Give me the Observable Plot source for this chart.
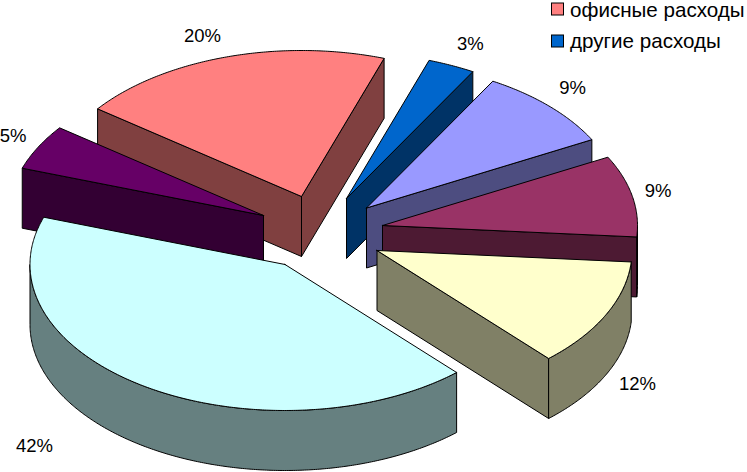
<!DOCTYPE html>
<html>
<head>
<meta charset="utf-8">
<script src="https://cdn.jsdelivr.net/npm/d3@7"></script>
<script src="https://cdn.jsdelivr.net/npm/@observablehq/plot@0.6"></script>
<style>html,body{margin:0;padding:0;background:#fff}svg{display:block}</style>
</head>
<body>
<div id="chart"></div>
<script>
// Data, clockwise from the blue slice
const sliceIds = ["other", "s2", "s3", "s4", "s5", "s6", "office"];
const shares = [3, 9, 9, 12, 42, 5, 20];
const shareLabels = ["3%", "9%", "9%", "12%", "42%", "5%", "20%"];
const legendNames = ["офисные расходы", "другие расходы"];
const legendIds = ["office", "other"];

// Styling
const topColors = ["#0066CC", "#9999FF", "#993366", "#FFFFCC", "#CCFFFF", "#660066", "#FF8080"];
const wallColors = ["#003366", "#4D4D80", "#4D1A33", "#808066", "#668080", "#330033", "#804040"];

// Pie layout: ellipse radii, extrusion, rotation, exploded apex of every slice
const rx = 255, ry = 146, depth = 60, rotation = 18.9;
const apexX = [346, 366, 382, 376.5, 284.5, 263, 301];
const apexY = [198, 207.5, 225, 250, 264, 215, 196];
const labelDx = [19, 23, 26, 31.5, -110.5, -25, -24];
const labelDy = [-21, -18.5, -5, 9, 0, -11, -21];
const paintOrder = [6, 0, 1, 2, 3, 5, 4];

const rad = (t) => (t * Math.PI) / 180;
const rim = (i, t, dz = 0) => ({
  x: apexX[i] + rx * Math.sin(rad(t)),
  y: apexY[i] - ry * Math.cos(rad(t)) + dz
});
const apex = (i, dz = 0) => ({x: apexX[i], y: apexY[i] + dz});

// Slice angles come from the shares
const total = d3.sum(shares);
let cursor = rotation;
const starts = [], ends = [];
shares.forEach((v) => {
  starts.push(cursor);
  cursor += (v / total) * 360;
  ends.push(cursor);
});

const arcPoints = (i, a, b, dz = 0) => {
  const n = Math.max(2, Math.ceil((b - a) * 2));
  return d3.range(n + 1).map((k) => rim(i, a + ((b - a) * k) / n, dz));
};

const faces = [];
const addFace = (id, fill, pts) => {
  [...pts, pts[0]].forEach((p) => faces.push({...p, id, fill}));
};

paintOrder.forEach((i) => {
  const a = starts[i], b = ends[i];
  const wall = wallColors[i];
  if (Math.sin(rad(a)) < 0)
    addFace(`${i}-start`, wall, [apex(i), rim(i, a), rim(i, a, depth), apex(i, depth)]);
  if (Math.sin(rad(b)) > 0)
    addFace(`${i}-end`, wall, [apex(i), rim(i, b), rim(i, b, depth), apex(i, depth)]);
  // curved outer wall: only the part of the rim turned to the viewer
  const oa = Math.max(a, 90), ob = Math.min(b, 270);
  if (ob > oa)
    addFace(`${i}-outer`, wall, [...arcPoints(i, oa, ob), ...arcPoints(i, oa, ob, depth).reverse()]);
  addFace(`${i}-top`, topColors[i], [apex(i), ...arcPoints(i, a, b)]);
});

const labelRows = shares.map((v, i) => {
  const mid = (starts[i] + ends[i]) / 2;
  const p = rim(i, mid, Math.cos(rad(mid)) < 0 ? depth : 0);
  return {x: p.x + labelDx[i], y: p.y + labelDy[i], text: shareLabels[i]};
});

const legendRows = legendNames.map((name, k) => ({
  name,
  fill: topColors[sliceIds.indexOf(legendIds[k])],
  x1: 551.5, x2: 563.5,
  y1: 3 + k * 32, y2: 15 + k * 32,
  tx: 569.5, ty: 10 + k * 31
}));

const font = "'Liberation Sans', Arial, sans-serif";

const chart = Plot.plot({
  width: 747,
  height: 472,
  margin: 0,
  style: {background: "#fff", fontFamily: font},
  x: {domain: [0, 747], axis: null},
  y: {domain: [472, 0], axis: null},
  marks: [
    Plot.line(faces, {
      x: "x", y: "y", z: "id", fill: "fill",
      stroke: "#000", strokeWidth: 1, curve: "linear-closed", clip: false
    }),
    Plot.text(labelRows, {
      x: "x", y: "y", text: "text",
      fontSize: 18.5, fill: "#000", textAnchor: "middle", lineAnchor: "middle"
    }),
    Plot.rect(legendRows, {
      x1: "x1", x2: "x2", y1: "y1", y2: "y2", fill: "fill", stroke: "#000", strokeWidth: 1
    }),
    Plot.text(legendRows, {
      x: "tx", y: "ty", text: "name",
      fontSize: 20.6, fill: "#000", textAnchor: "start", lineAnchor: "middle"
    })
  ]
});
document.getElementById("chart").appendChild(chart);
</script>
</body>
</html>
